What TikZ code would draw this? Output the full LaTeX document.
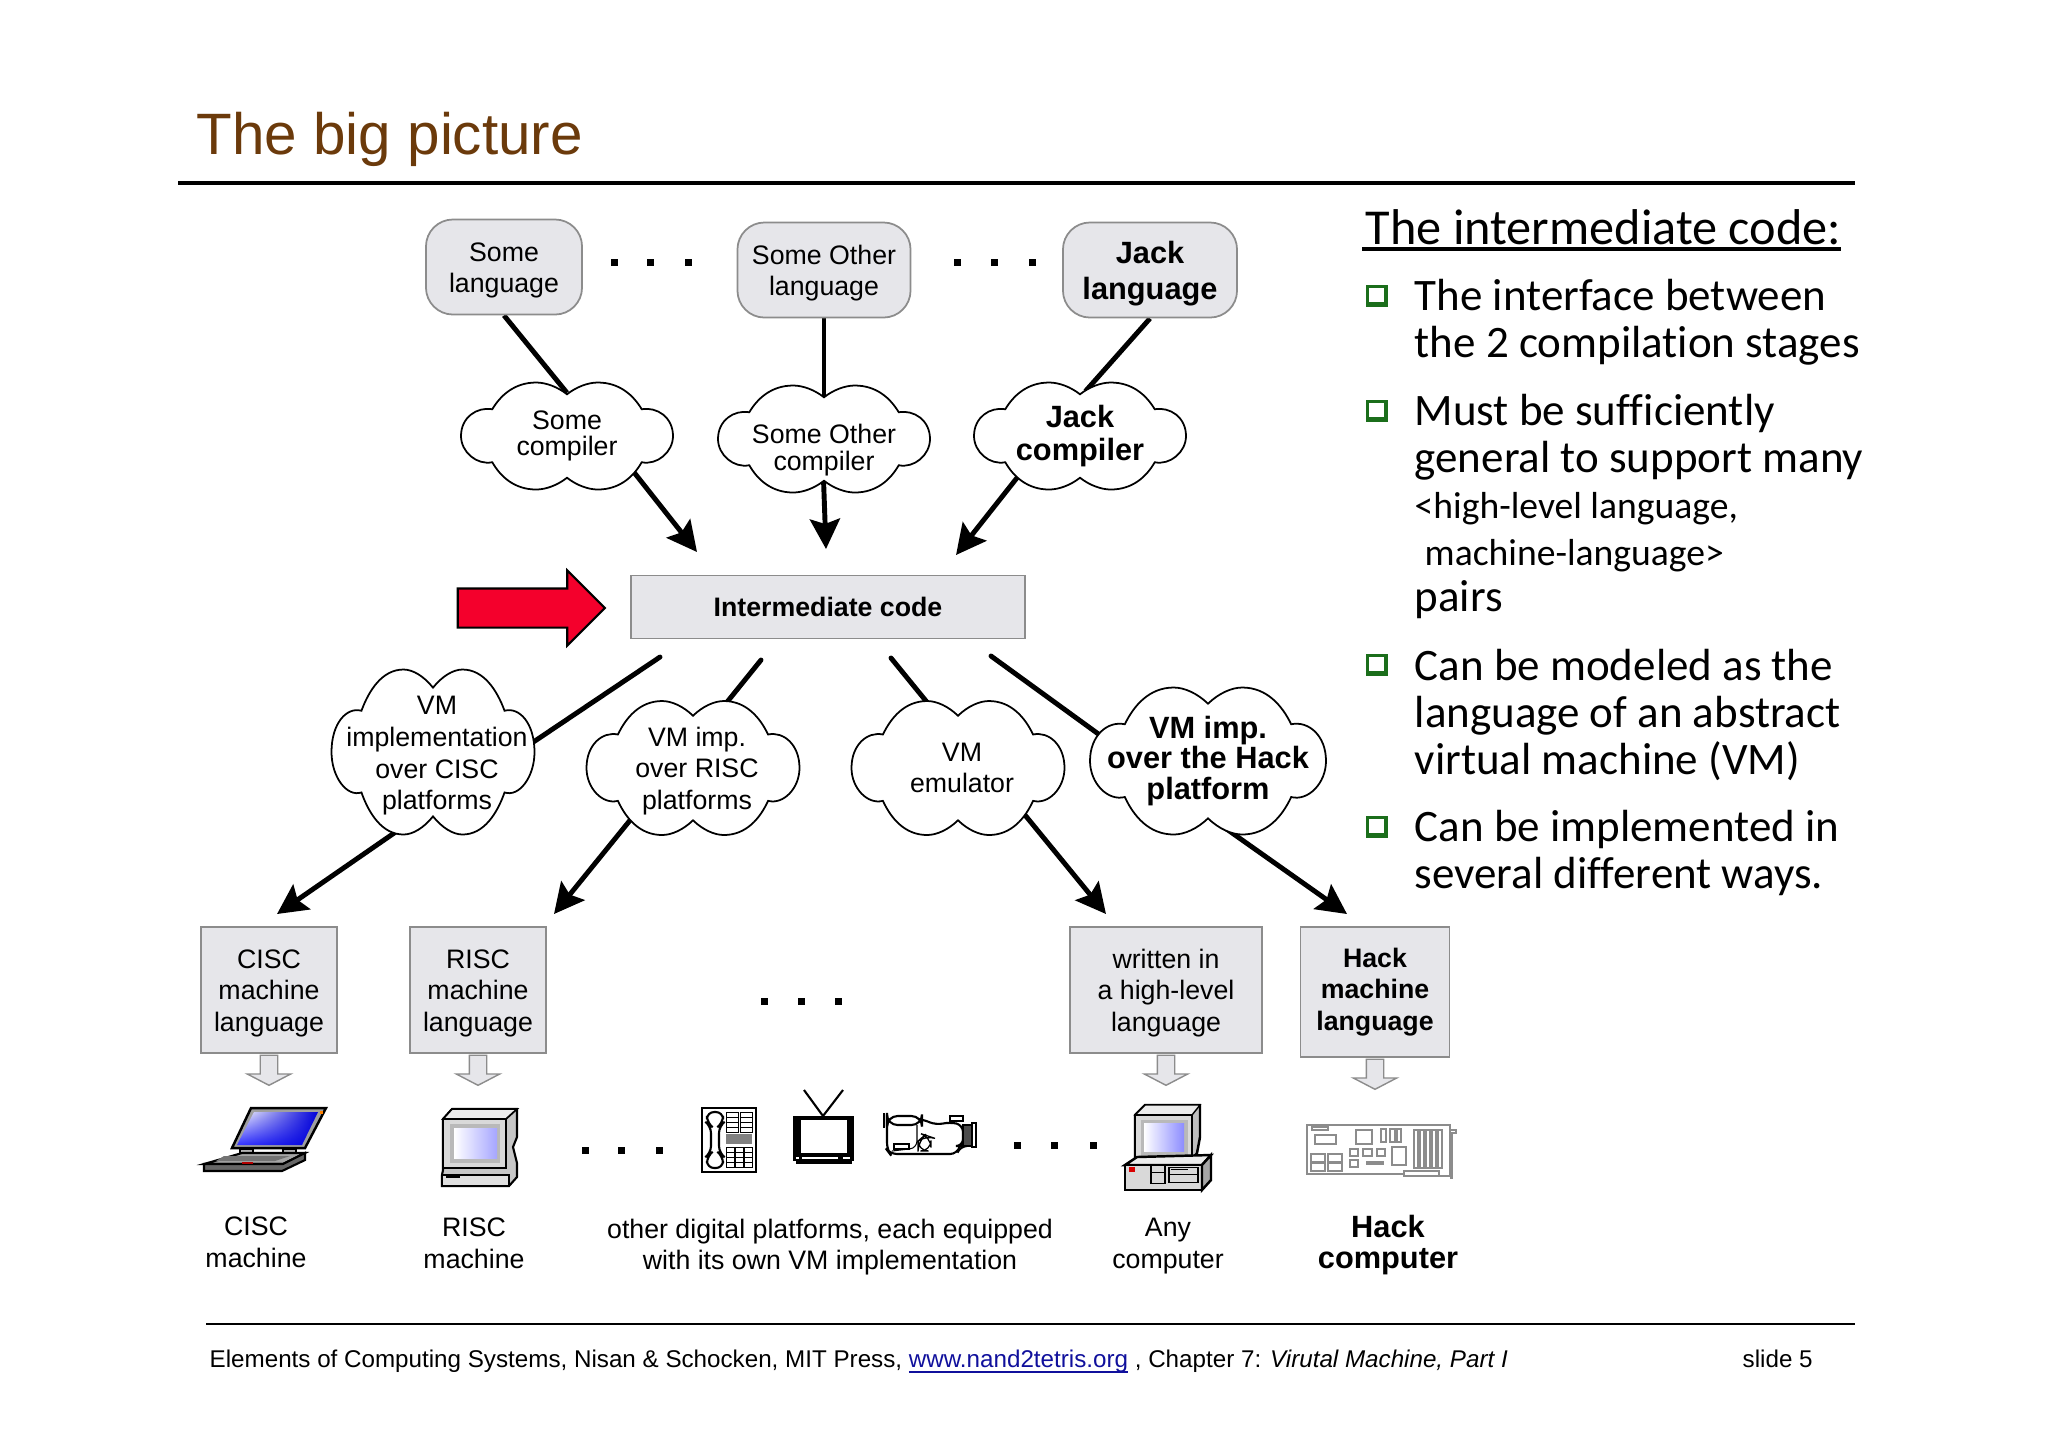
\documentclass[tikz,border=0pt]{standalone}
\usepackage{fontspec}
\setmainfont{Liberation Sans}
\newfontfamily\handfont[Ligatures=NoCommon]{Carlito}
\usetikzlibrary{arrows.meta,shapes.geometric,shapes.arrows,backgrounds,shadings}

\definecolor{titlebrown}{HTML}{6B3A0B}
\definecolor{boxgray}{HTML}{E6E6EA}
\definecolor{edgegray}{HTML}{8C8C8C}
\definecolor{bulletgreen}{HTML}{1B6E1B}
\definecolor{linkblue}{HTML}{10109C}
\definecolor{alarmred}{HTML}{F4002C}

\tikzset{
  plain/.style={font=\fontsize{7.6pt}{9pt}\selectfont,align=center,inner sep=0},
  tight/.style={font=\fontsize{7.6pt}{7.4pt}\selectfont,align=center,inner sep=0},
  mid/.style={font=\fontsize{7.6pt}{7.8pt}\selectfont,align=center,inner sep=0},
  bold/.style={font=\bfseries\fontsize{8.75pt}{8.8pt}\selectfont,align=center,inner sep=0},
  boldwide/.style={font=\bfseries\fontsize{8.75pt}{10.2pt}\selectfont,align=center,inner sep=0},
  boldsmall/.style={font=\bfseries\fontsize{7.6pt}{9pt}\selectfont,align=center,inner sep=0},
  lang/.style={draw=edgegray,fill=boxgray,rectangle,rounded corners=0.27cm,minimum width=#1,minimum height=0.95cm,line width=0.5pt},
  box/.style={draw=edgegray,fill=boxgray,rectangle,line width=0.5pt,minimum width=#1},
  hull/.style={ellipse,inner sep=0},
  link/.style={line width=1.4pt,shorten >=-0.12cm},
  linkarrow/.style={line width=1.4pt,shorten <=-0.13cm,-{Stealth[length=0.3cm,width=0.3cm,inset=0.05cm]}},
  sink/.style={draw=edgegray,fill=boxgray,single arrow,rotate=-90,inner xsep=0,inner ysep=0.08cm,line width=0.4pt,minimum width=0.42cm,minimum height=0.3cm,single arrow head extend=0.13cm,single arrow tip angle=125,single arrow head indent=0},
  dot/.style={fill=black,rectangle,inner sep=0,minimum size=0.07cm},
  hand/.style={font=\handfont\fontsize{12.8pt}{13pt}\selectfont,anchor=base west,inner sep=0},
  handsmall/.style={font=\handfont\fontsize{10.7pt}{11pt}\selectfont,anchor=base west,inner sep=0},
  part/.style={draw=black,line width=0.4pt,fill=#1},
  pin/.style={draw=edgegray,line width=0.35pt},
}

\newcommand{\lift}{\rule{0pt}{7.2pt}}
\newcommand{\liftbold}{\rule{0pt}{8.2pt}}

% name, x, y, width, height, label style, label text
\newcommand{\puffnode}[7]{
  \filldraw[fill=white,draw=black,line width=0.5pt,shift={(#2,#3)},xscale=#4/2,yscale=#5/2]
    (0,-.78) .. controls (-.09,-.92) and (-.2,-1) .. (-.29,-1)
    .. controls (-.5,-1) and (-.63,-.75) .. (-.705,-.5)
    .. controls (-.85,-.55) and (-1,-.35) .. (-1,0)
    .. controls (-1,.3) and (-.85,.55) .. (-.705,.49)
    .. controls (-.63,.75) and (-.5,1) .. (-.29,1)
    .. controls (-.2,1) and (-.09,.92) .. (0,.78)
    .. controls (.09,.92) and (.2,1) .. (.29,1)
    .. controls (.5,1) and (.63,.75) .. (.705,.49)
    .. controls (.85,.55) and (1,.3) .. (1,0)
    .. controls (1,-.35) and (.85,-.55) .. (.705,-.5)
    .. controls (.63,-.75) and (.5,-1) .. (.29,-1)
    .. controls (.2,-1) and (.09,-.92) .. (0,-.78) -- cycle;
  \node[hull,minimum width={#4*0.01cm},minimum height={#5*0.01cm},label={[#6]center:{#7}}] (#1) at (#2,#3) {};
}

\begin{document}
\begin{tikzpicture}[x=0.01cm,y=-0.01cm]
\useasboundingbox (0,0) rectangle (2048,1447);

\node[anchor=base west,inner sep=0,text=titlebrown,font=\fontsize{16.6pt}{18pt}\selectfont] (title) at (196,154) {The big picture};
\coordinate (ruleL) at (178,183);
\coordinate (ruleR) at (1855,183);
\draw[line width=1.2pt] (ruleL) -- (ruleR);

% languages and compilers
\node[lang=1.56cm,plain] (lang1) at (504,267) {\lift Some\\language};
\node[lang=1.73cm,plain] (lang2) at (824,270) {\lift Some Other\\language};
\node[lang=1.74cm,boldwide] (lang3) at (1150,270) {\liftbold Jack\\language};

\foreach \dx in {614,650,688,957,994,1032}
  \node[dot] (top\dx) at (\dx,262) {};

\puffnode{comp1}{567}{436}{212}{107}{tight}{Some\\compiler}
\puffnode{comp2}{824}{439}{212}{107}{mid,yshift=-0.11cm}{Some Other\\compiler}
\puffnode{comp3}{1080}{436}{212}{107}{bold,font=\bfseries\fontsize{8.75pt}{9.2pt}\selectfont}{Jack\\compiler}

\begin{scope}[on background layer]
\draw[line width=1.4pt] (lang1.south) -- ([yshift=-0.11cm]comp1.north);
\draw[link] (lang2.south) -- (comp2.north);
\draw[link] (lang3.south) -- (comp3.76);
\end{scope}

% intermediate code
\node[box=3.94cm,minimum height=0.63cm,font=\bfseries\fontsize{7.6pt}{9pt}\selectfont] (code) at (828,607) {Intermediate code};
\node[draw=black,fill=alarmred,single arrow,inner xsep=0,inner ysep=0.185cm,line width=0.6pt,minimum height=1.47cm,minimum width=0.73cm,single arrow head extend=0.18cm,single arrow tip angle=90,single arrow head indent=0] (pointer) at (521.5,608) {};

\coordinate (tip1) at (697,552);
\coordinate (tip2) at (826,549);
\coordinate (tip3) at (956,555);
\begin{scope}[on background layer]
\draw[linkarrow] (comp1.330) -- (tip1);
\draw[linkarrow] (comp2.south) -- (tip2);
\draw[linkarrow] (comp3.214) -- (tip3);
\end{scope}

% vm implementations
\puffnode{vm1}{433}{752}{203}{165}{plain,xshift=0.04cm,yshift=-0.04cm}{VM\\implementation\\over CISC\\platforms}
\puffnode{vm2}{693}{768}{213}{134}{plain,xshift=0.04cm,yshift=-0.03cm}{VM imp.\\over RISC\\platforms}
\puffnode{vm3}{958}{768}{213}{134}{plain,xshift=0.04cm}{VM\\emulator}
\puffnode{vm4}{1208}{761}{236}{147}{bold}{VM imp.\\over the Hack\\platform}

\coordinate (from1) at (660,657);
\coordinate (from2) at (761,660);
\coordinate (from3) at (891,658);
\coordinate (from4) at (991,656);
\coordinate (down1) at (277,914);
\coordinate (down2) at (554,914);
\coordinate (down3) at (1106,914);
\coordinate (down4) at (1347,914);
\begin{scope}[on background layer]
\draw[link,line cap=round] (from1) -- (vm1.6);
\draw[link,line cap=round] (from2) -- (vm2.63);
\draw[link,line cap=round] (from3) -- (vm3.115);
\draw[link,line cap=round] (from4) -- (vm4.166);
\draw[linkarrow] (vm1.246) -- (down1);
\draw[linkarrow] (vm2.220) -- (down2);
\draw[linkarrow] (vm3.324.5) -- (down3);
\draw[linkarrow] (vm4.289) -- (down4);
\end{scope}

% machine languages
\node[box=1.36cm,minimum height=1.26cm,plain] (ml1) at (269,990) {\lift CISC\\machine\\language};
\node[box=1.36cm,minimum height=1.26cm,plain] (ml2) at (478,990) {\lift RISC\\machine\\language};
\node[box=1.92cm,minimum height=1.26cm,plain] (ml3) at (1166,990) {\lift written in\\a high-level\\language};
\node[box=1.49cm,minimum height=1.3cm,boldsmall] (ml4) at (1375,992) {Hack\\machine\\language};

\foreach \dx in {764,801,838}
  \node[dot] (mid\dx) at (\dx,1001) {};

\node[sink] (s1) at (269,1068) {};
\node[sink] (s2) at (478,1068) {};
\node[sink] (s3) at (1166,1068) {};
\node[sink] (s4) at (1375,1072) {};

% laptop
\draw[part=gray!75,line width=0.7pt] (232,1148) -- (251,1108) -- (326,1108) -- (305,1148) -- cycle;
\shade[upper left=white,upper right=blue!85!black,lower left=blue!80,lower right=blue!85!black] (254,1112) -- (318,1112) -- (302,1145) -- (237,1145) -- cycle;
\fill[orange] (320,1111) rectangle (323,1114);
\draw[part=gray!60,line width=0.3pt] (240,1149) rectangle (253,1153);
\draw[part=gray!60,line width=0.3pt] (283,1149) rectangle (296,1153);
\draw[part=gray!70,line width=0.6pt] (242,1153) -- (305,1153) -- (283,1164) -- (204,1164) -- cycle;
\draw[part=black!60,line width=0.6pt] (204,1164) -- (283,1164) -- (305,1153) -- (305,1160) -- (282,1171) -- (204,1171) -- cycle;
\fill[black!55] (224,1156) -- (290,1156) -- (275,1161) -- (216,1161) -- cycle;
\fill[red!70!black] (242,1162) rectangle (253,1164);

% risc tower
\draw[part=gray!45,line width=0.6pt] (443,1119) -- (452,1109) -- (517,1109) -- (517,1137) -- (513,1147) -- (517,1163) -- (517,1177) -- (509,1186) -- (442,1186) -- (442,1175) -- (443,1170) -- cycle;
\draw[part=gray!15,line width=0.5pt] (452,1109) -- (517,1109) -- (506,1119) -- (443,1119) -- cycle;
\draw[part=gray!30,line width=0.5pt] (443,1119) rectangle (506,1168);
\fill[gray!55] (450,1124) rectangle (500,1163);
\shade[left color=white,right color=blue!35] (454,1128) rectangle (497,1158);
\draw[part=gray!25,line width=0.5pt] (442,1175) rectangle (509,1186);
\fill[black] (446,1176) rectangle (460,1178);

% phone
\draw[part=white,line width=0.8pt] (702,1108) rectangle (756,1172);
\draw[part=white,line width=0.6pt,rounded corners=2pt] (707,1112) -- (723,1112) -- (723,1123) -- (719,1126) -- (719,1153) -- (723,1156) -- (723,1168) -- (707,1168) -- (707,1156) -- (711,1153) -- (711,1126) -- (707,1123) -- cycle;
\foreach \kx in {726,740}
  \foreach \ky in {1112,1117,1122,1127}
    \draw[line width=0.25pt] (\kx,\ky) rectangle (\kx+12,\ky+5);
\foreach \kx in {726,735,744}
  \foreach \ky in {1147,1152,1157,1162}
    \draw[line width=0.25pt] (\kx,\ky) rectangle (\kx+8.5,\ky+5);
\foreach \ly in {1135,1137,1139,1141,1143}
  \draw[line width=0.3pt,gray] (726,\ly) -- (752,\ly);

% tv
\draw[line width=0.6pt] (804,1090) -- (823,1116) -- (843,1090);
\fill[black] (793,1116) rectangle (854,1161);
\fill[black] (796,1161) rectangle (852,1164);
\fill[white] (801,1120) rectangle (847,1153);
\fill[white] (802,1157) rectangle (838,1159);
\fill[white] (796,1157) rectangle (799,1159);
\fill[white] (843,1157) rectangle (850,1159);

% camcorder
\draw[part=white,line width=0.6pt,rounded corners=2pt] (887,1120) -- (887,1150) -- (890,1154) -- (957,1154) -- (960,1146) -- (963,1146) -- (963,1125) -- (950,1122) -- (936,1125) -- (922,1119) -- (887,1119) -- cycle;
\draw[part=white,line width=0.6pt,rounded corners=3pt] (887,1116) rectangle (922,1125);
\fill[black] (883,1113) rectangle (885,1128);
\draw[part=black!70,line width=0.5pt] (963,1125) rectangle (972,1146);
\draw[part=white,line width=0.5pt] (972,1123) rectangle (976,1147);
\draw[part=white,line width=0.5pt] (950,1116) rectangle (963,1121);
\draw[line width=0.35pt] (894,1144) rectangle (909,1149);
\draw[line width=0.3pt,rounded corners=2pt] (917,1125) -- (917,1148) -- (892,1151);
\draw[line width=0.35pt,rounded corners=3pt] (918,1151) -- (918,1141) -- (925,1135) -- (931,1137) -- (931,1151) -- cycle;

% pc
\draw[part=gray!50,line width=0.7pt] (1135,1115) -- (1145,1105) -- (1200,1105) -- (1200,1137) -- (1197,1153) -- (1192,1160) -- (1135,1160) -- cycle;
\draw[part=gray!15,line width=0.4pt] (1145,1105) -- (1200,1105) -- (1192,1115) -- (1135,1115) -- cycle;
\draw[part=gray!30,line width=0.5pt] (1135,1115) rectangle (1192,1160);
\fill[gray!55] (1141,1120) rectangle (1188,1157);
\shade[left color=white,right color=blue!45] (1144,1123) rectangle (1184,1151);
\draw[part=gray!15,line width=0.7pt] (1125,1165) -- (1137,1157) -- (1211,1155) -- (1202,1165) -- cycle;
\draw[part=gray!30,line width=0.7pt] (1125,1165) rectangle (1202,1190);
\draw[part=gray!70,line width=0.7pt] (1202,1165) -- (1211,1155) -- (1211,1180) -- (1202,1190) -- cycle;
\fill[red!85!black] (1129,1167) rectangle (1135,1172);
\draw[part=gray!30,line width=0.3pt] (1151,1165) rectangle (1165,1172);
\draw[part=gray!30,line width=0.3pt] (1151,1172) rectangle (1165,1183);
\draw[part=gray!30,line width=0.3pt] (1169,1167) rectangle (1198,1182);
\fill[black] (1171,1169) rectangle (1188,1170);
\draw[line width=0.3pt] (1169,1174) -- (1198,1174);

% hack board
\draw[pin] (1307,1125) -- (1450,1125) -- (1450,1176) -- (1404,1176) -- (1404,1174) -- (1307,1174) -- cycle;
\draw[pin] (1450,1130) -- (1456,1130) -- (1456,1133) -- (1452,1133) -- (1452,1178) -- (1450,1178);
\foreach \ax/\ay/\bx/\by in {1312/1127/1328/1130,1315/1135/1336/1144,1356/1130/1372/1144,1381/1129/1386/1142,1390/1129/1395/1142,1397/1129/1401/1142,1311/1154/1325/1162,1328/1154/1342/1162,1311/1163/1325/1171,1328/1163/1342/1171,1350/1149/1358/1156,1363/1149/1372/1156,1377/1149/1385/1156,1350/1160/1358/1167,1367/1162/1383/1164,1392/1147/1406/1165,1404/1171/1439/1176}
  \draw[pin] (\ax,\ay) rectangle (\bx,\by);
\foreach \sx in {1414,1420,1426,1432,1438}
  \draw[pin] (\sx,1130) rectangle (\sx+4,1168);

% bottom dots and captions
\foreach \dx in {585,621,659}
  \node[dot] (low\dx) at (\dx,1150) {};
\foreach \dx in {1017,1054,1093}
  \node[dot] (right\dx) at (\dx,1145) {};

\node[plain] (cap1) at (256,1242) {CISC\\machine};
\node[plain] (cap2) at (474,1243) {RISC\\machine};
\node[plain] (cap3) at (830,1247) {other digital platforms, each equipped\\with its own VM implementation};
\node[plain] (cap4) at (1168,1246) {Any\\computer};
\node[bold] (cap5) at (1388,1245) {Hack\\computer};

% right column
\node[inner sep=0,anchor=west,font=\handfont\fontsize{14.3pt}{15pt}\selectfont] (head) at (1365,227) {The intermediate code:};
\coordinate (headL) at (1362,249);
\coordinate (headR) at (1841,249);
\draw[line width=0.9pt] (headL) -- (headR);

\foreach \by in {296,411,665,827}{
  \fill[bulletgreen] (1366,\by-11) rectangle (1388,\by+11);
  \fill[white] (1369,\by-8) rectangle (1384,\by+6);
}
\node[hand] (t1) at (1414,310) {The interface between};
\node[hand] (t2) at (1414,357) {the 2 compilation stages};
\node[hand] (t3) at (1414,425) {Must be sufficiently};
\node[hand] (t4) at (1414,472) {general to support many};
\node[handsmall] (t5) at (1414,518) {<high-level language,};
\node[handsmall] (t6) at (1424,565) {machine-language>};
\node[hand] (t7) at (1414,611) {pairs};
\node[hand] (t8) at (1414,680) {Can be modeled as the};
\node[hand] (t9) at (1414,727) {language of an abstract};
\node[hand] (t10) at (1414,774) {virtual machine (VM)};
\node[hand] (t11) at (1414,841) {Can be implemented in};
\node[hand] (t12) at (1414,888) {several different ways.};

% footer
\coordinate (footL) at (206,1324);
\coordinate (footR) at (1855,1324);
\draw[line width=0.5pt] (footL) -- (footR);
\node[anchor=base west,inner sep=0,font=\fontsize{6.88pt}{8pt}\selectfont] (foot) at (209,1367) {Elements of Computing Systems, Nisan \& Schocken, MIT Press, \textcolor{linkblue}{\underline{\smash{www.nand2tetris.org}}} , Chapter 7: \textit{Virutal Machine, Part I}};
\node[anchor=base west,inner sep=0,font=\fontsize{6.88pt}{8pt}\selectfont] (slide) at (1742,1367) {slide 5};

\end{tikzpicture}
\end{document}
